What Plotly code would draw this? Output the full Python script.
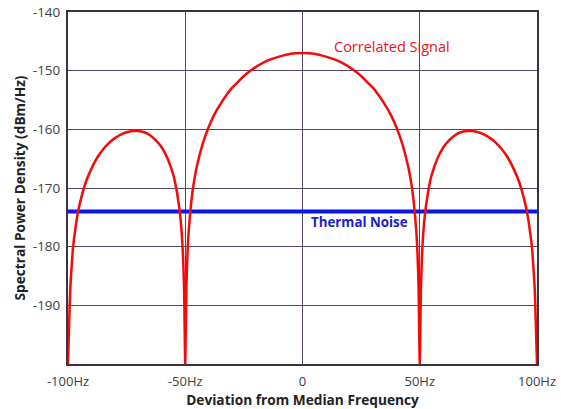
import plotly.graph_objects as go

# Frequency deviation (Hz) and correlated-signal PSD (dBm/Hz)
freq_hz = [-100, -99.5, -99, -98, -97.5, -96, -95, -92.5, -90, -87.5, -85, -82.5, -80, -77.5, -75, -72.5, -70,
           -67.5, -65, -62.5, -60, -57.5, -55, -53.5, -52, -51, -50.5,
           -50, -49.5, -49, -48.5, -47, -46, -45, -42.5, -40, -37.5, -35, -32.5, -30, -27.5, -25, -22.5, -20,
           -17.5, -15, -10, -5,
           0, 5, 10, 15, 17.5, 20, 22.5, 25, 27.5, 30, 32.5, 35, 37.5, 40, 42.5, 45, 46, 47, 48.5, 49, 49.5, 50,
           50.5, 51, 52, 53.5, 55, 57.5, 60, 62.5, 65, 67.5, 70, 72.5, 75, 77.5, 80, 82.5, 85, 87.5, 90,
           92.5, 95, 96, 97.5, 98, 99, 99.5, 100]
signal_dbm = [-200, -193.0, -186.9, -180.8, -178.9, -174.7, -172.7, -169.1, -166.7, -164.8, -163.4, -162.3,
              -161.5, -160.9, -160.5, -160.3, -160.3, -160.5, -161.0, -161.9, -163.1, -165.0, -167.9, -170.8,
              -175.3, -181.2, -187.1,
              -200, -186.9, -180.8, -177.2, -170.9, -168.3, -166.2, -162.4, -159.6, -157.4, -155.7, -154.2,
              -152.9, -151.9, -150.9, -150.1, -149.4, -148.8, -148.3, -147.6, -147.1,
              -147.0, -147.1, -147.6, -148.3, -148.8, -149.4, -150.1, -150.9, -151.9, -152.9, -154.2, -155.7,
              -157.4, -159.6, -162.4, -166.2, -168.3, -170.9, -177.2, -180.8, -186.9, -200,
              -187.1, -181.2, -175.3, -170.8, -167.9, -165.0, -163.1, -161.9, -161.0, -160.5, -160.3, -160.3,
              -160.5, -160.9, -161.5, -162.3, -163.4, -164.8, -166.7, -169.1, -172.7, -174.7, -178.9, -180.8,
              -186.9, -193.0, -200]

noise_x = [-100, 100]
noise_dbm = [-174, -174]

x_tickvals = [-100, -50, 0, 50, 100]
x_ticktext = ["-100Hz", "-50Hz", "0", "50Hz", "100Hz"]
y_tickvals = [-190, -180, -170, -160, -150, -140]
y_ticktext = ["-190", "-180", "-170", "-160", "-150", "-140"]

fig = go.Figure()
fig.add_trace(go.Scatter(x=noise_x, y=noise_dbm, mode="lines",
                         line=dict(color="#0a14e6", width=4), showlegend=False))
fig.add_trace(go.Scatter(x=freq_hz, y=signal_dbm, mode="lines",
                         line=dict(color="#f50a0a", width=2.5, shape="spline", smoothing=0.5),
                         showlegend=False))

grid = "#55455f"
fig.update_xaxes(range=[-100, 100], tickvals=x_tickvals, ticktext=x_ticktext, automargin=False,
                 showgrid=True, gridcolor=grid, gridwidth=1, zeroline=False,
                 showline=True, linecolor="#3a3340", linewidth=2, mirror=True,
                 ticks="outside", ticklen=4, tickcolor="rgba(0,0,0,0)",
                 tickfont=dict(family="Open Sans", size=13, color="#404040"),
                 title=dict(text="<b>Deviation from Median Frequency</b>", standoff=4,
                            font=dict(family="Open Sans", size=13.7, color="#222222")))
fig.update_yaxes(range=[-200, -140], tickvals=y_tickvals, ticktext=y_ticktext, automargin=False,
                 showgrid=True, gridcolor=grid, gridwidth=1, zeroline=False,
                 showline=True, linecolor="#3a3340", linewidth=2, mirror=True,
                 ticks="outside", ticklen=3, tickcolor="rgba(0,0,0,0)",
                 tickfont=dict(family="Open Sans", size=13.5, color="#404040"),
                 title=dict(text="<b>Spectral Power Density (dBm/Hz)</b>", standoff=4,
                            font=dict(family="Open Sans", size=13.7, color="#222222")))

fig.add_annotation(x=38.2, y=-145.8, text="Correlated Signal", showarrow=False,
                   font=dict(family="Open Sans", size=14.5, color="#f01020"))
fig.add_annotation(x=24.5, y=-175.75, text="<b>Thermal Noise</b>", showarrow=False,
                   font=dict(family="Open Sans", size=13.3, color="#2020d0"))

fig.update_layout(width=561, height=409, margin=dict(l=68, r=24, t=12, b=45),
                  paper_bgcolor="white", plot_bgcolor="white")
fig.write_html("out.html", config={"displayModeBar": False},
               post_script=("document.body.style.margin='0';document.body.style.overflow='hidden';"
                            "document.documentElement.style.overflow='hidden';"))
